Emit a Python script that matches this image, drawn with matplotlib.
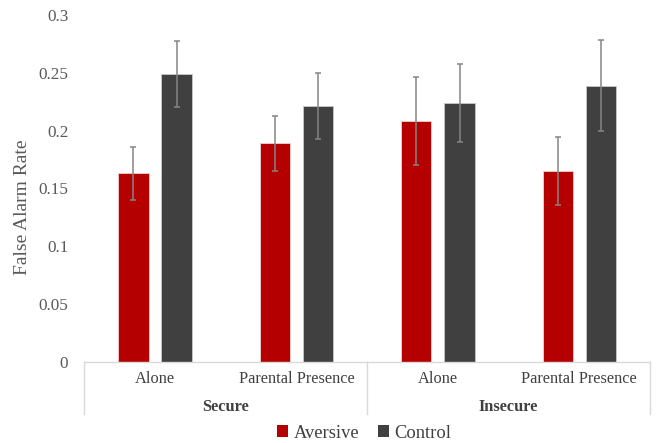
import numpy as np
import matplotlib
matplotlib.use("Agg")
from matplotlib import pyplot as plt
from matplotlib.patches import Patch

# Data
groups = ["Secure", "Insecure"]
conditions = ["Alone", "Parental Presence", "Alone", "Parental Presence"]
aversive = [0.163, 0.189, 0.208, 0.165]
aversive_err = [0.023, 0.024, 0.038, 0.0295]
control = [0.249, 0.221, 0.224, 0.239]
control_err = [0.0285, 0.0285, 0.034, 0.0395]

red = "#B50000"
dark = "#404040"
line_col = "#D9D9D9"

plt.rcParams["font.family"] = ["Liberation Serif", "DejaVu Serif"]

fig = plt.figure(figsize=(6.6, 4.43), dpi=100)
ax = fig.add_axes([0.1277, 0.1835, 0.8573, 0.7825])

x = np.arange(len(conditions))
w = 0.215
off = 0.153
ax.bar(x - off, aversive, w, color=red, edgecolor="#F2D0D0", linewidth=0.6,
       yerr=aversive_err, ecolor="#858585", capsize=2.2,
       error_kw=dict(elinewidth=1.1, capthick=1.1), label="Aversive")
ax.bar(x + off, control, w, color=dark, edgecolor="#C8C8C8", linewidth=0.6,
       yerr=control_err, ecolor="#858585", capsize=2.2,
       error_kw=dict(elinewidth=1.1, capthick=1.1), label="Control")

ax.set_xlim(-0.5, len(conditions) - 0.5)
ax.set_ylim(0, 0.3)
ax.set_yticks(np.arange(0, 0.31, 0.05))
ax.set_yticklabels(["0", "0.05", "0.1", "0.15", "0.2", "0.25", "0.3"])
ax.tick_params(axis="y", length=0, pad=11.5, labelsize=12.3, labelcolor="#595959")
ax.set_xticks([])

for s in ["top", "right", "left"]:
    ax.spines[s].set_visible(False)
ax.spines["bottom"].set_color(line_col)
ax.spines["bottom"].set_linewidth(1)

# category labels
trans = ax.get_xaxis_transform()
for i, c in enumerate(conditions):
    ax.text(i, -0.05, c, transform=trans, ha="center", va="center",
            fontsize=11.8, color="#404040")
for j, g in enumerate(groups):
    ax.text(2 * j + 0.5, -0.13, g, transform=trans, ha="center", va="center",
            fontsize=11.8, fontweight="bold", color="#404040")

# separator lines of the multi-level axis
for xv in [-0.5, 1.5, 3.5]:
    ax.plot([xv, xv], [0, -0.15], transform=trans, color=line_col, lw=1,
            clip_on=False)

ax.set_ylabel("False Alarm Rate", fontsize=14, color="#595959")
ax.yaxis.set_label_coords(-0.095, 0.446)

handles = [Patch(facecolor=red, label="Aversive"),
           Patch(facecolor=dark, label="Control")]
fig.legend(handles=handles, loc="center", bbox_to_anchor=(0.5515, 0.022),
           ncol=2, frameon=False, fontsize=13.3, handlelength=0.6,
           handleheight=0.6, handletextpad=0.3, columnspacing=1.0,
           labelcolor="#404040")

fig.savefig("out.png", dpi=100)
